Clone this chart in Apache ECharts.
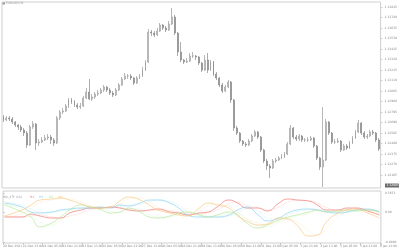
<!DOCTYPE html>
<html><head><meta charset="utf-8">
<script src="https://cdn.jsdelivr.net/npm/echarts@6/dist/echarts.min.js"></script>
<style>html,body{margin:0;padding:0;background:#fff}#c{width:400px;height:250px}</style>
</head><body><div id="c"></div>
<script>
const opens=[1.12745,1.12715,1.12735,1.12725,1.12695,1.12665,1.12645,1.12615,1.12585,1.12465,
1.12645,1.12675,1.12485,1.12495,1.12515,1.12535,1.12545,1.12515,1.12485,1.12735,
1.12795,1.12805,1.12855,1.12915,1.12895,1.12865,1.12845,1.12855,1.12935,1.12995,
1.12925,1.12945,1.12975,1.12985,1.13015,1.13045,1.13015,1.12985,1.12965,1.13015,
1.13065,1.13125,1.13155,1.13155,1.13135,1.13085,1.13135,1.13155,1.13215,1.13295,
1.13595,1.13585,1.13565,1.13605,1.13665,1.13635,1.13615,1.13675,1.13745,1.13585,
1.13395,1.13315,1.13295,1.13305,1.13355,1.13355,1.13345,1.13285,1.13215,1.13315,
1.13215,1.13295,1.13175,1.13135,1.13065,1.13005,1.13045,1.13095,1.12915,1.12635,
1.12585,1.12505,1.12475,1.12465,1.12505,1.12555,1.12595,1.12545,1.12415,1.12305,
1.12255,1.12235,1.12305,1.12315,1.12335,1.12345,1.12375,1.12475,1.12635,1.12545,
1.12525,1.12555,1.12515,1.12515,1.12515,1.12535,1.12455,1.12335,1.12245,1.12315,
1.12695,1.12585,1.12495,1.12495,1.12505,1.12415,1.12455,1.12435,1.12485,1.12535,
1.12595,1.12685,1.12585,1.12545,1.12555,1.12595,1.12585,1.12515];
const closes=[1.12715,1.12735,1.12725,1.12695,1.12665,1.12645,1.12615,1.12585,1.12465,1.12645,
1.12675,1.12485,1.12495,1.12515,1.12535,1.12545,1.12515,1.12485,1.12735,1.12795,
1.12805,1.12855,1.12915,1.12895,1.12865,1.12845,1.12855,1.12935,1.12995,1.12925,
1.12945,1.12975,1.12985,1.13015,1.13045,1.13015,1.12985,1.12965,1.13015,1.13065,
1.13125,1.13155,1.13155,1.13135,1.13085,1.13135,1.13155,1.13215,1.13295,1.13595,
1.13585,1.13565,1.13605,1.13665,1.13635,1.13615,1.13675,1.13745,1.13585,1.13395,
1.13315,1.13295,1.13305,1.13355,1.13355,1.13345,1.13285,1.13215,1.13315,1.13215,
1.13295,1.13175,1.13135,1.13065,1.13005,1.13045,1.13095,1.12915,1.12635,1.12585,
1.12505,1.12475,1.12465,1.12505,1.12555,1.12595,1.12545,1.12415,1.12305,1.12255,
1.12235,1.12305,1.12315,1.12335,1.12345,1.12375,1.12475,1.12635,1.12545,1.12525,
1.12555,1.12515,1.12515,1.12515,1.12535,1.12455,1.12335,1.12245,1.12315,1.12695,
1.12585,1.12495,1.12495,1.12505,1.12415,1.12455,1.12435,1.12485,1.12535,1.12595,
1.12685,1.12585,1.12545,1.12555,1.12595,1.12585,1.12515,1.12425];
const highs=[1.12765,1.12755,1.12755,1.12745,1.12705,1.12675,1.12665,1.12635,1.12605,1.12665,
1.12705,1.12685,1.12525,1.12545,1.12565,1.12575,1.12565,1.12535,1.12755,1.12815,
1.12835,1.12875,1.12935,1.12935,1.12915,1.12885,1.12885,1.12955,1.13035,1.13125,
1.12975,1.12995,1.13015,1.13035,1.13065,1.13055,1.13035,1.13005,1.13035,1.13085,
1.13145,1.13185,1.13175,1.13175,1.13145,1.13155,1.13175,1.13245,1.13315,1.13625,
1.13615,1.13605,1.13635,1.13685,1.13675,1.13655,1.13705,1.13835,1.13765,1.13595,
1.13495,1.13325,1.13335,1.13385,1.13395,1.13365,1.13355,1.13295,1.13365,1.13385,
1.13315,1.13305,1.13195,1.13145,1.13085,1.13065,1.13115,1.13105,1.12925,1.12655,
1.12595,1.12515,1.12495,1.12525,1.12575,1.12615,1.12605,1.12555,1.12425,1.12325,
1.12275,1.12325,1.12335,1.12355,1.12375,1.12395,1.12495,1.12665,1.12645,1.12565,
1.12575,1.12565,1.12535,1.12545,1.12555,1.12545,1.12465,1.12345,1.12845,1.12725,
1.12705,1.12595,1.12525,1.12535,1.12515,1.12475,1.12475,1.12505,1.12555,1.12615,
1.12715,1.12695,1.12605,1.12575,1.12615,1.12615,1.12595,1.12535];
const lows=[1.12695,1.12705,1.12705,1.12675,1.12645,1.12615,1.12595,1.12555,1.12435,1.12455,
1.12625,1.12415,1.12455,1.12485,1.12505,1.12515,1.12475,1.12455,1.12475,1.12715,
1.12775,1.12795,1.12835,1.12875,1.12845,1.12825,1.12825,1.12845,1.12925,1.12915,
1.12905,1.12925,1.12955,1.12975,1.12995,1.12995,1.12965,1.12945,1.12955,1.13005,
1.13055,1.13115,1.13125,1.13115,1.13065,1.13075,1.13125,1.13145,1.13205,1.13285,
1.13555,1.13545,1.13555,1.13595,1.13615,1.13595,1.13605,1.13665,1.13565,1.13355,
1.13295,1.13275,1.13285,1.13295,1.13335,1.13315,1.13265,1.13195,1.13205,1.13185,
1.13205,1.13155,1.13115,1.13045,1.12985,1.12995,1.13035,1.12885,1.12605,1.12565,
1.12485,1.12455,1.12445,1.12455,1.12495,1.12545,1.12525,1.12395,1.12285,1.12215,
1.12135,1.12225,1.12285,1.12305,1.12325,1.12335,1.12365,1.12465,1.12525,1.12505,
1.12505,1.12495,1.12495,1.12495,1.12505,1.12435,1.12315,1.12215,1.12045,1.12305,
1.12565,1.12475,1.12475,1.12485,1.12395,1.12405,1.12415,1.12425,1.12475,1.12525,
1.12585,1.12565,1.12525,1.12525,1.12545,1.12565,1.12495,1.12405];

const priceTicks=[1.13845,1.13740,1.13635,1.13530,1.13425,1.13320,1.13215,1.13110,1.13005,1.12900,1.12795,1.12690,1.12585,1.12480,1.12375,1.12270,1.12165];
const timeLabels=["20 Dec 2021","21 Dec 13:00","22 Dec 05:00","22 Dec 21:00","23 Dec 13:00","24 Dec 05:00","24 Dec 21:00","27 Dec 13:00","28 Dec 05:00","28 Dec 21:00","29 Dec 13:00","30 Dec 05:00","30 Dec 21:00","31 Dec 13:00","3 Jan 05:00","3 Jan 21:00","4 Jan 13:00","5 Jan 05:00","5 Jan 21:00","6 Jan 13:00"];

const indIdx=[0,6,9,12,16,19,22,26,29,32,36,39,42,46,49,52,56,59,62,66,69,72,76,79,82,86,89,93,96,99,103,106,109,113,116,119,123,127];
const redLine=[-0.15,-0.15,-0.06,-0.12,-0.18,-0.18,-0.03,0.06,0.12,0.12,0.15,0.12,0.06,0.03,0.06,0.09,0,-0.03,-0.09,-0.03,0,0.15,0.36,0.27,0.12,0.12,0.03,0.27,0.39,0.36,0.33,0.21,0.06,0.06,0.12,0.12,0.03,-0.09];
const redSig=[-0.12,-0.15,-0.12,-0.09,-0.15,-0.18,-0.12,-0.03,0.06,0.1,0.13,0.13,0.1,0.05,0.04,0.06,0.05,0,-0.05,-0.06,-0.02,0.06,0.24,0.3,0.2,0.12,0.06,0.15,0.3,0.36,0.34,0.27,0.14,0.06,0.09,0.11,0.07,-0.03];
const blueLine=[0.27,0.15,0,-0.03,0,0.06,0.09,0.12,0.12,0.15,0.12,0.21,0.18,0.27,0.36,0.36,0.27,0.12,-0.09,-0.15,-0.15,-0.15,-0.09,0.06,0.15,-0.09,-0.27,-0.18,-0.03,0.06,0.09,0.06,0,-0.03,0,0.06,0.09,0];
const blueSig=[0.3,0.21,0.09,0,-0.02,0.03,0.07,0.1,0.12,0.13,0.14,0.17,0.2,0.23,0.31,0.36,0.32,0.2,0.02,-0.12,-0.15,-0.15,-0.12,-0.02,0.1,0.03,-0.18,-0.22,-0.1,0.01,0.07,0.08,0.03,-0.01,-0.01,0.03,0.07,0.05];
const greenLine=[0.21,0,-0.15,-0.45,-0.33,-0.15,0.06,0.21,0.15,0.09,-0.03,0,0.12,0,-0.15,-0.18,-0.12,-0.03,0,-0.09,-0.15,-0.09,0,-0.09,-0.33,-0.48,-0.39,-0.24,-0.15,-0.09,0,0.06,0,0.03,0.06,0.03,0.06,0];
const greenSig=[0.24,0.09,-0.06,-0.3,-0.39,-0.24,-0.06,0.12,0.18,0.12,0.03,-0.01,0.06,0.06,-0.07,-0.16,-0.15,-0.08,-0.02,-0.05,-0.12,-0.12,-0.05,-0.05,-0.2,-0.4,-0.44,-0.32,-0.2,-0.12,-0.05,0.03,0.03,0.02,0.04,0.05,0.05,0.03];
const orangeLine=[-0.12,0.06,0.21,0.36,0.39,0.42,0.36,0.24,0.15,0.12,0.15,0.33,0.45,0.36,0.21,0.06,-0.03,-0.09,-0.12,0.12,0.27,0.21,0.12,-0.12,-0.27,-0.39,-0.36,-0.18,-0.21,-0.39,-0.72,-0.69,-0.30,-0.03,0.06,0.09,-0.03,-0.18];
const orangeSig=[-0.15,-0.05,0.12,0.27,0.36,0.4,0.39,0.3,0.2,0.14,0.13,0.24,0.39,0.42,0.3,0.14,0.02,-0.06,-0.1,0,0.2,0.24,0.17,0,-0.2,-0.33,-0.38,-0.27,-0.2,-0.3,-0.55,-0.7,-0.5,-0.16,0.01,0.07,0.03,-0.1];
const indTicks=[0.5673,0,-0.9];

const cats=opens.map((_,i)=>String(i));
const ohlc=opens.map((o,i)=>[o,closes[i],lows[i],highs[i]]);
const pairs=a=>indIdx.map((x,i)=>[x,a[i]]);
const chart=echarts.init(document.getElementById('c'),null,{renderer:'canvas'});
const lbl={fontSize:3,color:'#888',fontFamily:'DejaVu Sans'};
function ln(name,arr,color,dotted){
  return {name,type:'line',xAxisIndex:1,yAxisIndex:1,data:pairs(arr),smooth:0.5,symbol:'none',silent:true,
    lineStyle:{color,width:dotted?0.7:0.8,type:dotted?'dotted':'solid',opacity:dotted?0.75:0.85}};
}
chart.setOption({
  animation:false,
  backgroundColor:'#ffffff',
  grid:[
    {left:2,top:2,width:381,height:186,show:true,borderColor:'#cfcfcf',borderWidth:1},
    {left:2,top:191,width:381,height:52,show:true,borderColor:'#cfcfcf',borderWidth:1}
  ],
  xAxis:[
    {type:'category',gridIndex:0,data:cats,boundaryGap:true,axisLabel:{show:false},axisTick:{show:false},axisLine:{show:false}},
    {type:'category',gridIndex:1,data:cats,boundaryGap:true,axisLabel:{show:false},axisTick:{show:false},axisLine:{show:false}},
    {type:'value',gridIndex:1,min:0,max:19.05,interval:1,position:'bottom',splitLine:{show:false},axisLine:{show:false},
      axisTick:{show:true,length:2,lineStyle:{color:'#aaa',width:0.5}},
      axisLabel:Object.assign({},lbl,{margin:2,align:'left',formatter:v=>timeLabels[v]!==undefined?timeLabels[v]:''})}
  ],
  yAxis:[
    {type:'value',gridIndex:0,position:'right',min:1.12035,max:1.13895,scale:true,splitLine:{show:false},axisLine:{show:false},
      axisTick:{show:true,length:2,customValues:priceTicks,lineStyle:{color:'#aaa',width:0.5}},
      axisLabel:Object.assign({},lbl,{margin:4,customValues:priceTicks,formatter:v=>v.toFixed(5)})},
    {type:'value',gridIndex:1,position:'right',min:-0.93,max:0.63,splitLine:{show:false},axisLine:{show:false},
      axisTick:{show:true,length:2,customValues:indTicks,lineStyle:{color:'#aaa',width:0.5}},
      axisLabel:Object.assign({},lbl,{margin:4,customValues:indTicks,formatter:v=>v===0?'0.00':v.toFixed(4)})}
  ],
  series:[
    {type:'candlestick',xAxisIndex:0,yAxisIndex:0,data:ohlc,barWidth:1.4,silent:true,
      itemStyle:{color:'#ffffff',color0:'#8a8a8a',borderColor:'#999999',borderColor0:'#8a8a8a',borderWidth:0.7}},
    ln('redSig',redSig,'#f6b0ac',true),
    ln('blueSig',blueSig,'#b0e2f7',true),
    ln('greenSig',greenSig,'#cdeeb8',true),
    ln('orangeSig',orangeSig,'#fadcaa',true),
    ln('red',redLine,'#f07570',false),
    ln('blue',blueLine,'#86d0f0',false),
    ln('green',greenLine,'#b2e796',false),
    ln('orange',orangeLine,'#f8c77e',false)
  ],
  graphic:[
    {type:'rect',shape:{x:2.5,y:2.5,width:2.5,height:2},style:{fill:'#999'}},
    {type:'text',x:6,y:2,style:{text:'EURUSD,H1',font:'3px DejaVu Sans',fill:'#999'}},
    {type:'text',x:3,y:195.5,style:{text:'RSI_4TF (14)',font:'3px DejaVu Sans',fill:'#999'}},
    {type:'text',x:30,y:195.5,style:{text:'H1',font:'3px DejaVu Sans',fill:'#f07570'}},
    {type:'text',x:39,y:195.5,style:{text:'H4',font:'3px DejaVu Sans',fill:'#86d0f0'}},
    {type:'text',x:49,y:195.5,style:{text:'D1',font:'3px DejaVu Sans',fill:'#b2e796'}},
    {type:'text',x:58,y:195.5,style:{text:'W1',font:'3px DejaVu Sans',fill:'#f8c77e'}},
    {type:'rect',shape:{x:385,y:183.5,width:14,height:4},style:{fill:'#6a6a6a'}},
    {type:'text',x:386.5,y:184,style:{text:'1.12085',font:'3px DejaVu Sans',fill:'#ffffff'}}
  ]
});
</script></body></html>
